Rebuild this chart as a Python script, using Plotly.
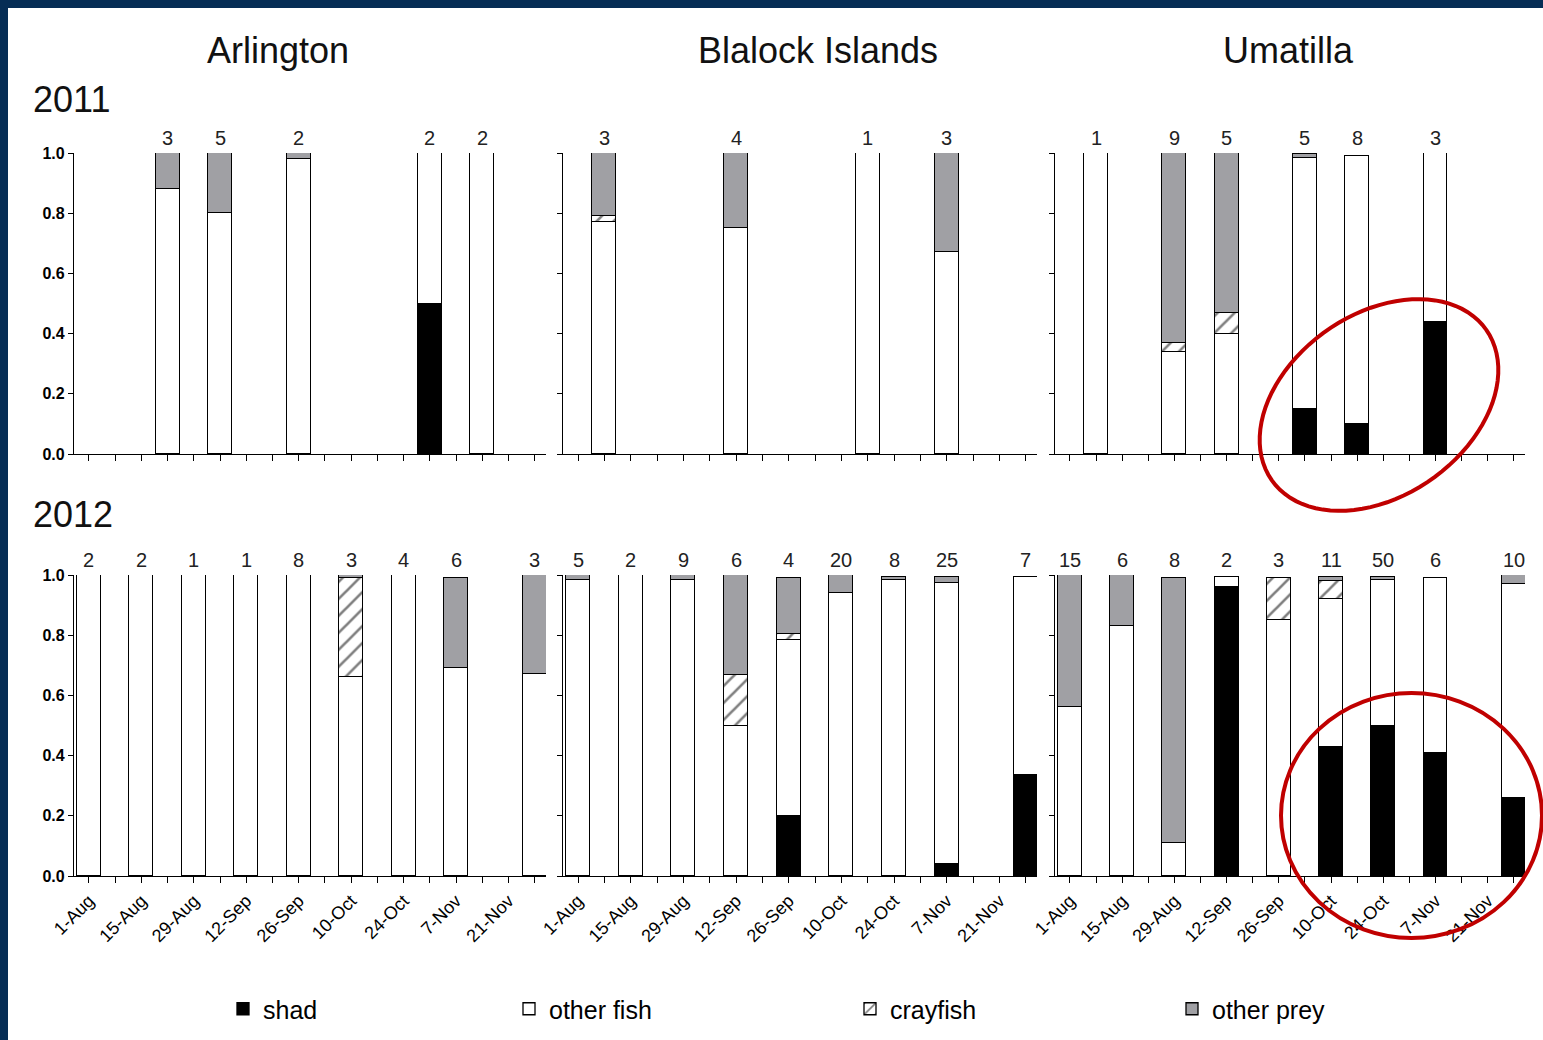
import math
import plotly.graph_objects as go

# ---------------------------------------------------------------------------
# Diet composition (proportion of diet) of predators by sampling date
# Stack order from bottom: shad, other fish, crayfish, other prey
# ---------------------------------------------------------------------------
SITES = ["Arlington", "Blalock Islands", "Umatilla"]
YEARS = ["2011", "2012"]

TICK_LABELS = ["1-Aug", "15-Aug", "29-Aug", "12-Sep", "26-Sep",
               "10-Oct", "24-Oct", "7-Nov", "21-Nov"]

# ---- 2011 ----
dates_2011_arlington = ["2011-08-22", "2011-09-05", "2011-09-26", "2011-10-31", "2011-11-14"]
n_2011_arlington = [3, 5, 2, 2, 2]
shad_2011_arlington = [0, 0, 0, 0.50, 0]
fish_2011_arlington = [0.88, 0.80, 0.98, 0.50, 1.00]
cray_2011_arlington = [0, 0, 0, 0, 0]
prey_2011_arlington = [0.12, 0.20, 0.02, 0, 0]

dates_2011_blalock = ["2011-08-08", "2011-09-12", "2011-10-17", "2011-11-07"]
n_2011_blalock = [3, 4, 1, 3]
shad_2011_blalock = [0, 0, 0, 0]
fish_2011_blalock = [0.77, 0.75, 1.00, 0.67]
cray_2011_blalock = [0.02, 0, 0, 0]
prey_2011_blalock = [0.21, 0.25, 0, 0.33]

dates_2011_umatilla = ["2011-08-08", "2011-08-29", "2011-09-12", "2011-10-03", "2011-10-17", "2011-11-07"]
n_2011_umatilla = [1, 9, 5, 5, 8, 3]
shad_2011_umatilla = [0, 0, 0, 0.15, 0.10, 0.44]
fish_2011_umatilla = [1.00, 0.34, 0.40, 0.835, 0.89, 0.56]
cray_2011_umatilla = [0, 0.03, 0.07, 0, 0, 0]
prey_2011_umatilla = [0, 0.63, 0.53, 0.012, 0, 0]

# ---- 2012 ----
dates_2012 = ["2012-08-01", "2012-08-15", "2012-08-29", "2012-09-12", "2012-09-26",
              "2012-10-10", "2012-10-24", "2012-11-07", "2012-11-28"]

n_2012_arlington = [2, 2, 1, 1, 8, 3, 4, 6, 3]
shad_2012_arlington = [0, 0, 0, 0, 0, 0, 0, 0, 0]
fish_2012_arlington = [1.00, 1.00, 1.00, 1.00, 1.00, 0.66, 1.00, 0.69, 0.67]
cray_2012_arlington = [0, 0, 0, 0, 0, 0.33, 0, 0, 0]
prey_2012_arlington = [0, 0, 0, 0, 0, 0.01, 0, 0.30, 0.33]

n_2012_blalock = [5, 2, 9, 6, 4, 20, 8, 25, 7]
shad_2012_blalock = [0, 0, 0, 0, 0.20, 0, 0, 0.04, 0.335]
fish_2012_blalock = [0.985, 1.00, 0.985, 0.50, 0.585, 0.94, 0.985, 0.935, 0.66]
cray_2012_blalock = [0, 0, 0, 0.167, 0.02, 0, 0, 0, 0]
prey_2012_blalock = [0.015, 0, 0.015, 0.333, 0.185, 0.06, 0.007, 0.02, 0]

n_2012_umatilla = [15, 6, 8, 2, 3, 11, 50, 6, 10]
shad_2012_umatilla = [0, 0, 0, 0.96, 0, 0.43, 0.50, 0.41, 0.26]
fish_2012_umatilla = [0.56, 0.83, 0.11, 0.035, 0.85, 0.49, 0.485, 0.58, 0.71]
cray_2012_umatilla = [0, 0, 0, 0, 0.14, 0.06, 0, 0, 0]
prey_2012_umatilla = [0.44, 0.17, 0.88, 0, 0, 0.015, 0.01, 0, 0.03]

panels = {
    ("2011", "Arlington"): (dates_2011_arlington, n_2011_arlington, shad_2011_arlington,
                            fish_2011_arlington, cray_2011_arlington, prey_2011_arlington),
    ("2011", "Blalock Islands"): (dates_2011_blalock, n_2011_blalock, shad_2011_blalock,
                                  fish_2011_blalock, cray_2011_blalock, prey_2011_blalock),
    ("2011", "Umatilla"): (dates_2011_umatilla, n_2011_umatilla, shad_2011_umatilla,
                           fish_2011_umatilla, cray_2011_umatilla, prey_2011_umatilla),
    ("2012", "Arlington"): (dates_2012, n_2012_arlington, shad_2012_arlington,
                            fish_2012_arlington, cray_2012_arlington, prey_2012_arlington),
    ("2012", "Blalock Islands"): (dates_2012, n_2012_blalock, shad_2012_blalock,
                                  fish_2012_blalock, cray_2012_blalock, prey_2012_blalock),
    ("2012", "Umatilla"): (dates_2012, n_2012_umatilla, shad_2012_umatilla,
                           fish_2012_umatilla, cray_2012_umatilla, prey_2012_umatilla),
}

# ---------------------------------------------------------------------------
# Page geometry (pixels) and styling
# ---------------------------------------------------------------------------
W, H = 1543, 1040
FONT = "Arial, Liberation Sans, sans-serif"
NAVY = "#062d55"
GRAY = "#a0a0a4"
RED = "#c00000"
DAY_MS = 86400000
BAR_DAYS = 6.4

col_px = [(74, 546), (563, 1037), (1055, 1525)]   # left/right edge of each column
row_px = [(153, 454), (575, 876)]                 # top/bottom of each row (y=1 .. y=0)


def px_x(x):
    return x / W


def px_y(y):
    return 1 - y / H


OUTLINE = dict(color="black", width=1.3)
categories = [
    ("shad", dict(color="black", line=OUTLINE), "legend", 223),
    ("other fish", dict(color="white", line=OUTLINE), "legend2", 509),
    ("crayfish", dict(color="white", line=OUTLINE,
                      pattern=dict(shape="/", fgcolor="black", bgcolor="white",
                                   size=12, solidity=0.22, fillmode="overlay")), "legend3", 850),
    ("other prey", dict(color=GRAY, line=OUTLINE), "legend4", 1172),
]

fig = go.Figure()
annotations = []
layout_axes = {}

for r, year in enumerate(YEARS):
    ticks = [f"{year}-08-01", f"{year}-08-08", f"{year}-08-15", f"{year}-08-22",
             f"{year}-08-29", f"{year}-09-05", f"{year}-09-12", f"{year}-09-19",
             f"{year}-09-26", f"{year}-10-03", f"{year}-10-10", f"{year}-10-17",
             f"{year}-10-24", f"{year}-10-31", f"{year}-11-07", f"{year}-11-14",
             f"{year}-11-21", f"{year}-11-28"]
    ticktext = []
    for i in range(len(ticks)):
        if r == 1 and i % 2 == 0 and i // 2 < len(TICK_LABELS):
            ticktext.append(TICK_LABELS[i // 2])
        else:
            ticktext.append("")
    for c, site in enumerate(SITES):
        k = r * 3 + c + 1
        xname = "x" if k == 1 else f"x{k}"
        yname = "y" if k == 1 else f"y{k}"
        dates, n, shad, fish, cray, prey = panels[(year, site)]
        series = [shad, fish, cray, prey]
        for (name, marker, legend_id, _), vals in zip(categories, series):
            fig.add_trace(go.Bar(
                x=dates, y=[v if v else None for v in vals], name=name, marker=marker,
                width=[BAR_DAYS * DAY_MS] * len(dates),
                xaxis=xname, yaxis=yname, legend=legend_id,
                legendgroup=name, showlegend=(k == 1),
                hovertemplate=f"{site} %{{x|%d %b %Y}}<br>{name}: %{{y:.2f}}<extra></extra>",
            ))
        for d, cnt in zip(dates, n):
            annotations.append(dict(
                x=d, y=1.0, xref=xname, yref=yname, text=str(cnt), showarrow=False,
                yanchor="middle", yshift=15, font=dict(family=FONT, size=20, color="#222"),
            ))

        x0, x1 = col_px[c]
        y_top, y_bot = row_px[r]
        xa = "xaxis" if k == 1 else f"xaxis{k}"
        ya = "yaxis" if k == 1 else f"yaxis{k}"
        layout_axes[xa] = dict(
            domain=[px_x(x0), px_x(x1)], anchor=yname, type="date",
            range=[f"{year}-07-28", f"{year}-12-01"],
            tickmode="array", tickvals=ticks, ticktext=ticktext, tickangle=-45,
            ticks="outside", ticklen=6, tickwidth=1.2, tickcolor="black",
            showline=True, linecolor="black", linewidth=1.3,
            showgrid=False, zeroline=False, fixedrange=True,
            showticklabels=(r == 1),
            tickfont=dict(family=FONT, size=18, color="black"),
        )
        layout_axes[ya] = dict(
            domain=[px_y(y_bot), px_y(y_top)], anchor=xname,
            range=[0, 1.0], tickmode="array", tickvals=[0, 0.2, 0.4, 0.6, 0.8, 1.0],
            ticktext=["0.0", "0.2", "0.4", "0.6", "0.8", "1.0"],
            ticks="outside", ticklen=5, tickwidth=1.2, tickcolor="black",
            showline=True, linecolor="black", linewidth=1.3,
            showgrid=False, zeroline=False, fixedrange=True,
            showticklabels=(c == 0),
            tickfont=dict(family=FONT, size=16, color="black", weight="bold"),
        )

# Site headings and year labels
site_centers = [278, 818, 1288]
for site, cx in zip(SITES, site_centers):
    annotations.append(dict(x=px_x(cx), y=px_y(50), xref="paper", yref="paper",
                            text=site, showarrow=False, xanchor="center", yanchor="middle",
                            font=dict(family=FONT, size=36, color="#111")))
for year, cy in zip(YEARS, [100, 514]):
    annotations.append(dict(x=px_x(31), y=px_y(cy), xref="paper", yref="paper",
                            text=year, showarrow=False, xanchor="left", yanchor="middle",
                            font=dict(family=FONT, size=36, color="#111")))


def ellipse_path(cx, cy, a, b, angle_deg, steps=90):
    th = math.radians(angle_deg)
    pts = []
    for i in range(steps):
        t = 2 * math.pi * i / steps
        ex = cx + a * math.cos(t) * math.cos(th) - b * math.sin(t) * math.sin(th)
        ey = cy - (a * math.cos(t) * math.sin(th) + b * math.sin(t) * math.cos(th))
        pts.append(f"{px_x(ex):.5f},{px_y(ey):.5f}")
    return "M " + " L ".join(pts) + " Z"


shapes = [
    # white page inside the navy frame
    dict(type="rect", xref="paper", yref="paper", x0=px_x(8), x1=1, y0=0, y1=px_y(8),
         fillcolor="white", line=dict(width=0), layer="below"),
    # highlight rings around the Umatilla shad bars
    dict(type="path", xref="paper", yref="paper",
         path=ellipse_path(1379, 405, 131, 91, 35),
         line=dict(color=RED, width=4), fillcolor="rgba(0,0,0,0)", layer="above"),
    dict(type="circle", xref="paper", yref="paper",
         x0=px_x(1281), x1=px_x(1542), y0=px_y(938), y1=px_y(693),
         line=dict(color=RED, width=4), fillcolor="rgba(0,0,0,0)", layer="above"),
]

legends = {}
for name, _, legend_id, left_px in categories:
    legends[legend_id] = dict(
        x=px_x(left_px), y=px_y(1009), xanchor="left", yanchor="middle",
        orientation="h", font=dict(family=FONT, size=25, color="black"),
        bgcolor="rgba(0,0,0,0)", borderwidth=0,
    )

fig.update_layout(
    width=W, height=H,
    margin=dict(l=0, r=0, t=0, b=0, autoexpand=False),
    paper_bgcolor=NAVY, plot_bgcolor="white",
    barmode="stack", bargap=0,
    font=dict(family=FONT, color="black"),
    annotations=annotations, shapes=shapes,
    **legends,
    **layout_axes,
)

fig.write_html("out.html")
